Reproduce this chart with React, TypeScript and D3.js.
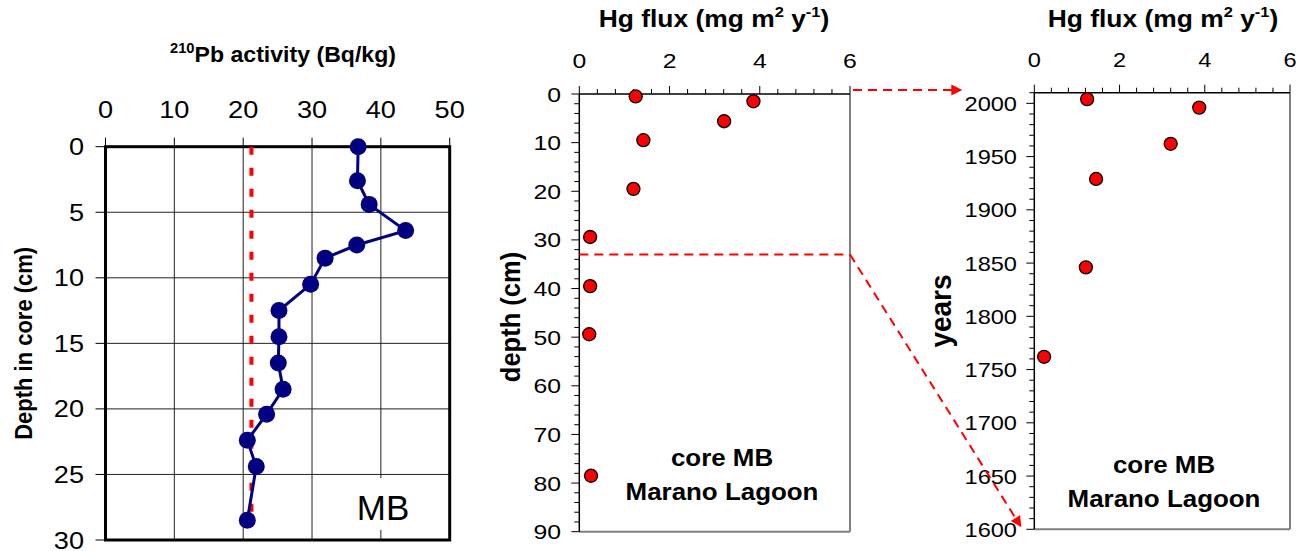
import React from "react"
import * as d3 from "d3"

// 210Pb profile, core MB
const pbActivity = [36.7, 36.6, 38.3, 43.6, 36.5, 31.9, 29.8, 25.2, 25.2, 25.1, 25.8, 23.4, 20.6, 21.9, 20.6]
const pbDepth = [0, 2.6, 4.4, 6.4, 7.5, 8.5, 10.5, 12.5, 14.5, 16.5, 18.5, 20.4, 22.4, 24.4, 28.5]
const supportedPb = 21.2
const supportedPbDepth = [0, 28]

// Hg flux vs depth
const hgFlux = [1.25, 3.86, 3.21, 1.42, 1.2, 0.24, 0.24, 0.22, 0.26]
const hgDepth = [0.5, 1.5, 5.6, 9.5, 19.5, 29.4, 39.5, 49.4, 78.5]
const datedDepth = 33

// Hg flux vs year
const hgFluxDated = [1.24, 3.87, 3.2, 1.45, 1.21, 0.23]
const hgYear = [2004, 1996, 1962, 1929, 1846, 1762]

const pbTicksX = [0, 10, 20, 30, 40, 50]
const pbTicksY = [0, 5, 10, 15, 20, 25, 30]
const fluxTicks = [0, 2, 4, 6]
const depthTicks = [0, 10, 20, 30, 40, 50, 60, 70, 80, 90]
const yearTicks = [1600, 1650, 1700, 1750, 1800, 1850, 1900, 1950, 2000]

const FONT = "'Liberation Sans', Arial, sans-serif"
const NUM_SX = 1.18

const T = (p: any) => (
	<text
		transform={`translate(${p.x},${p.y}) scale(${p.sx || 1},1)${p.rot ? " rotate(-90)" : ""}`}
		textAnchor={p.anchor || "middle"}
		fontSize={p.size}
		fontWeight={p.bold ? "bold" : "normal"}
		fontFamily={FONT}
		fill="#000"
	>
		{p.children}
	</text>
)

const FluxTitle = ({ x }: { x: number }) => (
	<text transform={`translate(${x},27) scale(1.1,1)`} textAnchor="middle" fontSize={24} fontWeight="bold" fontFamily={FONT}>
		Hg flux (mg m<tspan fontSize={15} dy={-10}>2</tspan>
		<tspan dy={10}> y</tspan>
		<tspan fontSize={15} dy={-10}>-1</tspan>
		<tspan dy={10}>)</tspan>
	</text>
)

const App = () => {
	const x1 = d3.scaleLinear().domain([0, 50]).range([105.5, 449.7])
	const y1 = d3.scaleLinear().domain([0, 30]).range([146.7, 540])
	const x2 = d3.scaleLinear().domain([0, 6]).range([579.3, 850])
	const y2 = d3.scaleLinear().domain([0, 90]).range([94, 531.7])
	const x3 = d3.scaleLinear().domain([0, 6]).range([1034.3, 1290])
	const y3 = d3.scaleLinear().domain([1600, 2010]).range([529.3, 92.7])

	const pbLine = d3
		.line<number>()
		.x((d) => x1(d))
		.y((d, i) => y1(pbDepth[i]))

	const minorFlux = d3.range(0, 6.01, 0.4)
	const minorDepth = d3.range(0, 90.1, 2)
	const minorYear = d3.range(1600, 2010.1, 10)
	const isMajorFlux = (t: number) => Math.abs(t / 2 - Math.round(t / 2)) < 1e-6

	// arrows linking dated part of the core to the years axis
	const a1 = { x0: x2(6) + 3, y0: y2(0) - 4, x1: x3(0) - 72, y1: y2(0) - 4 }
	const a2 = { x0: x2(6), y0: y2(datedDepth), x1: x3(0) - 13, y1: y3(1600) - 2 }
	const ang = Math.atan2(a2.y1 - a2.y0, a2.x1 - a2.x0)

	return (
		<svg width={1302} height={551} style={{ position: "absolute", left: 0, top: 0, background: "#fff" }}>
			<rect width={1302} height={551} fill="#fff" />

			{/* ---- panel 1 ---- */}
			{pbTicksX.slice(1, -1).map((t) => (
				<line key={"gx" + t} x1={x1(t)} x2={x1(t)} y1={y1(0)} y2={y1(30)} stroke="#222" strokeWidth={1} />
			))}
			{pbTicksY.slice(1, -1).map((t) => (
				<line key={"gy" + t} x1={x1(0)} x2={x1(50)} y1={y1(t)} y2={y1(t)} stroke="#222" strokeWidth={1} />
			))}
			<rect x={345} y={478} width={x1(50) - 347} height={y1(30) - 479} fill="#fff" />
			<line x1={x1(40)} x2={x1(40)} y1={y1(30) - 10} y2={y1(30)} stroke="#222" strokeWidth={1} />
			{pbTicksX.map((t) => (
				<g key={"tx" + t}>
					<line x1={x1(t)} x2={x1(t)} y1={y1(0) - 9} y2={y1(0)} stroke="#000" strokeWidth={1} />
					<T x={x1(t)} y={118} size={23} sx={NUM_SX}>{t}</T>
				</g>
			))}
			{pbTicksY.map((t) => (
				<g key={"ty" + t}>
					<line x1={x1(0) - 10} x2={x1(0)} y1={y1(t)} y2={y1(t)} stroke="#000" strokeWidth={1} />
					<T x={84} y={y1(t) + 8.5} size={23} sx={NUM_SX} anchor="end">{t}</T>
				</g>
			))}
			<rect x={x1(0)} y={y1(0)} width={x1(50) - x1(0)} height={y1(30) - y1(0)} fill="none" stroke="#000" strokeWidth={3} />
			<line
				x1={x1(supportedPb)}
				x2={x1(supportedPb)}
				y1={y1(supportedPbDepth[0])}
				y2={y1(supportedPbDepth[1])}
				stroke="#ff0000"
				strokeWidth={4}
				strokeDasharray="8,13"
			/>
			<path d={pbLine(pbActivity) || ""} fill="none" stroke="#000080" strokeWidth={3} />
			{pbActivity.map((v, i) => (
				<circle key={"pb" + i} cx={x1(v)} cy={y1(pbDepth[i])} r={8.5} fill="#000080" />
			))}
			<T x={383} y={520} size={35}>MB</T>
			<text transform="translate(283,62) scale(1.05,1)" textAnchor="middle" fontSize={22} fontWeight="bold" fontFamily={FONT}>
				<tspan fontSize={14} dy={-9}>210</tspan>
				<tspan dy={9}>Pb activity (Bq/kg)</tspan>
			</text>
			<T x={32} y={y1(15)} size={22} sx={1.1} bold rot>Depth in core (cm)</T>

			{/* ---- panel 2 ---- */}
			<line x1={x2(6)} x2={x2(6)} y1={y2(0)} y2={y2(90)} stroke="#808080" strokeWidth={2} />
			<line x1={x2(0)} x2={x2(6)} y1={y2(90)} y2={y2(90)} stroke="#808080" strokeWidth={2} />
			<line x1={x2(0)} x2={x2(6)} y1={y2(0)} y2={y2(0)} stroke="#000" strokeWidth={1.5} />
			<line x1={x2(0)} x2={x2(0)} y1={y2(0)} y2={y2(90)} stroke="#000" strokeWidth={1.5} />
			{minorFlux.map((t) => (
				<line key={"m2x" + t} x1={x2(t)} x2={x2(t)} y1={y2(0)} y2={y2(0) - (isMajorFlux(t) ? 8 : 5)} stroke="#000" strokeWidth={1} />
			))}
			{minorDepth.map((t) => (
				<line key={"m2y" + t} x1={x2(0)} x2={x2(0) - (t % 10 === 0 ? 8 : 5)} y1={y2(t)} y2={y2(t)} stroke="#000" strokeWidth={1} />
			))}
			{fluxTicks.map((t) => (
				<T key={"l2x" + t} x={x2(t)} y={68} size={21} sx={NUM_SX}>{t}</T>
			))}
			{depthTicks.map((t) => (
				<T key={"l2y" + t} x={561} y={y2(t) + 7.5} size={21} sx={NUM_SX} anchor="end">{t}</T>
			))}
			<line x1={x2(0)} x2={x2(6)} y1={y2(datedDepth)} y2={y2(datedDepth)} stroke="#ff0000" strokeWidth={2} strokeDasharray="9,6" />
			{hgFlux.map((v, i) => (
				<circle key={"hg" + i} cx={x2(v)} cy={y2(hgDepth[i])} r={6.5} fill="#ff0000" stroke="#000" strokeWidth={1.3} />
			))}
			<T x={722} y={466} size={24} sx={1.08} bold>core MB</T>
			<T x={722} y={500} size={24} sx={1.08} bold>Marano Lagoon</T>
			<FluxTitle x={714} />
			<T x={520} y={317} size={25.5} sx={1.1} bold rot>depth (cm)</T>

			{/* ---- panel 3 ---- */}
			<line x1={x3(6)} x2={x3(6)} y1={y3(2010)} y2={y3(1600)} stroke="#808080" strokeWidth={2} />
			<line x1={x3(0)} x2={x3(6)} y1={y3(1600)} y2={y3(1600)} stroke="#808080" strokeWidth={2} />
			<line x1={x3(0)} x2={x3(6)} y1={y3(2010)} y2={y3(2010)} stroke="#000" strokeWidth={1.5} />
			<line x1={x3(0)} x2={x3(0)} y1={y3(2010)} y2={y3(1600)} stroke="#000" strokeWidth={1.5} />
			{minorFlux.map((t) => (
				<line key={"m3x" + t} x1={x3(t)} x2={x3(t)} y1={y3(2010)} y2={y3(2010) - (isMajorFlux(t) ? 8 : 5)} stroke="#000" strokeWidth={1} />
			))}
			{minorYear.map((t) => (
				<line key={"m3y" + t} x1={x3(0)} x2={x3(0) - (t % 50 === 0 ? 8 : 5)} y1={y3(t)} y2={y3(t)} stroke="#000" strokeWidth={1} />
			))}
			{fluxTicks.map((t) => (
				<T key={"l3x" + t} x={x3(t)} y={67} size={20} sx={NUM_SX}>{t}</T>
			))}
			{yearTicks.map((t) => (
				<T key={"l3y" + t} x={1017} y={y3(t) + 7.5} size={20} sx={NUM_SX} anchor="end">{t}</T>
			))}
			{hgFluxDated.map((v, i) => (
				<circle key={"hy" + i} cx={x3(v)} cy={y3(hgYear[i])} r={6.5} fill="#ff0000" stroke="#000" strokeWidth={1.3} />
			))}
			<T x={1164} y={473} size={24} sx={1.08} bold>core MB</T>
			<T x={1164} y={507} size={24} sx={1.08} bold>Marano Lagoon</T>
			<FluxTitle x={1163} />
			<T x={951} y={311} size={28} sx={1.05} bold rot>years</T>

			{/* ---- linking arrows ---- */}
			<line x1={a1.x0} x2={a1.x1 - 10} y1={a1.y0} y2={a1.y1} stroke="#ff0000" strokeWidth={2} strokeDasharray="9,6" />
			<path d={`M${a1.x1},${a1.y1} l-11,-5.5 l0,11 Z`} fill="#ff0000" />
			<line x1={a2.x0} x2={a2.x1 - 10 * Math.cos(ang)} y1={a2.y0} y2={a2.y1 - 10 * Math.sin(ang)} stroke="#ff0000" strokeWidth={2} strokeDasharray="9,6" />
			<path
				d={`M${a2.x1},${a2.y1} l${-11 * Math.cos(ang) + 5.5 * Math.sin(ang)},${-11 * Math.sin(ang) - 5.5 * Math.cos(ang)} l${-11 * Math.sin(ang)},${11 * Math.cos(ang)} Z`}
				fill="#ff0000"
			/>
		</svg>
	)
}

export default App
